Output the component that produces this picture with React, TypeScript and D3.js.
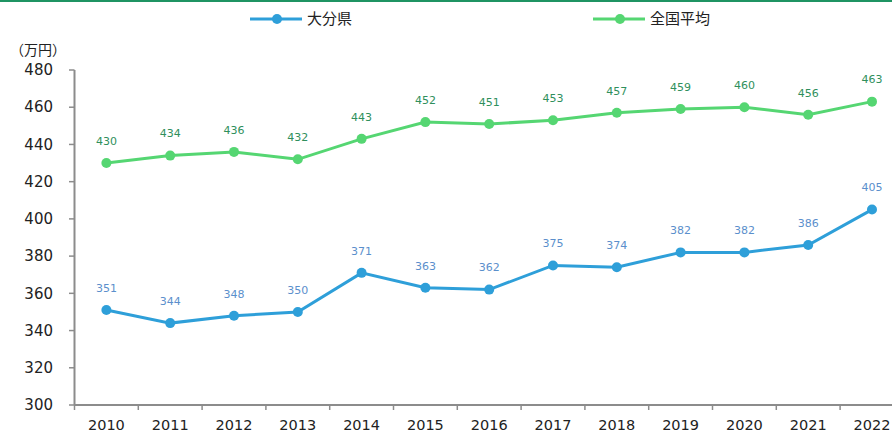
import React from "react";
import * as d3 from "d3";

const years = ["2010","2011","2012","2013","2014","2015","2016","2017","2018","2019","2020","2021","2022"];
const oita = [351, 344, 348, 350, 371, 363, 362, 375, 374, 382, 382, 386, 405];
const national = [430, 434, 436, 432, 443, 452, 451, 453, 457, 459, 460, 456, 463];
const yTicks = [300, 320, 340, 360, 380, 400, 420, 440, 460, 480];
const seriesNames = ["大分県", "全国平均"];

const W = 892, H = 434;
const font = "'DejaVu Sans', Verdana, sans-serif";
const cjk = "'Noto Sans CJK JP', sans-serif";

export default function App() {
  const x = d3.scaleBand<string>().domain(years).range([74.5, 74.5 + 63.8 * 13]);
  const y = d3.scaleLinear().domain([300, 480]).range([405, 70]);
  const cx = (d: string) => (x(d) as number) + x.bandwidth() / 2;
  const line = d3.line<number>().x((_, i) => cx(years[i])).y((v) => y(v));

  const series = [
    { name: seriesNames[0], data: oita, color: "#2e9fd9", label: "#5b8fcc" },
    { name: seriesNames[1], data: national, color: "#55d672", label: "#2f8f5c" },
  ];
  const legendX = [250, 593];

  return (
    <svg width={W} height={H} style={{ position: "absolute", left: 0, top: 0, background: "#fff" }}>
      <line x1={0} x2={W} y1={1} y2={1} stroke="#1f9463" strokeWidth={2} />
      {series.map((s, i) => (
        <g key={s.name} transform={`translate(${legendX[i]},19)`}>
          <line x1={0} x2={52} y1={0} y2={0} stroke={s.color} strokeWidth={3} />
          <circle cx={27} cy={0} r={5} fill={s.color} />
          <text x={57} y={0} dy="0.35em" fontSize={15} fontFamily={cjk} fill="#222">{s.name}</text>
        </g>
      ))}
      <text x={10} y={50} dy="0.35em" fontSize={14} fontFamily={cjk} fill="#222">（万円）</text>
      {/* y axis */}
      <line x1={74.5} x2={74.5} y1={70} y2={405} stroke="#8c8c8c" strokeWidth={2} />
      {yTicks.map((t) => (
        <g key={t}>
          <line x1={69} x2={74.5} y1={y(t)} y2={y(t)} stroke="#8c8c8c" strokeWidth={1.5} />
          <text x={53} y={y(t)} dy="0.35em" textAnchor="end" fontSize={15} fontFamily={font} fill="#222">{t}</text>
        </g>
      ))}
      {/* x axis */}
      <line x1={74.5} x2={W} y1={405} y2={405} stroke="#8c8c8c" strokeWidth={2} />
      {years.map((yr) => (
        <g key={yr}>
          <line x1={x(yr) as number} x2={x(yr) as number} y1={405} y2={410} stroke="#8c8c8c" strokeWidth={1.5} />
          <text x={cx(yr)} y={425} dy="0.35em" textAnchor="middle" fontSize={14.5} fontFamily={font} fill="#222">{yr}</text>
        </g>
      ))}
      {series.map((s) => (
        <g key={s.name}>
          <path d={line(s.data) as string} fill="none" stroke={s.color} strokeWidth={3} />
          {s.data.map((v, i) => (
            <g key={i}>
              <circle cx={cx(years[i])} cy={y(v)} r={5} fill={s.color} />
              <text x={cx(years[i])} y={y(v) - 22} dy="0.35em" textAnchor="middle" fontSize={11} fontFamily={font} fill={s.label}>{v}</text>
            </g>
          ))}
        </g>
      ))}
    </svg>
  );
}
